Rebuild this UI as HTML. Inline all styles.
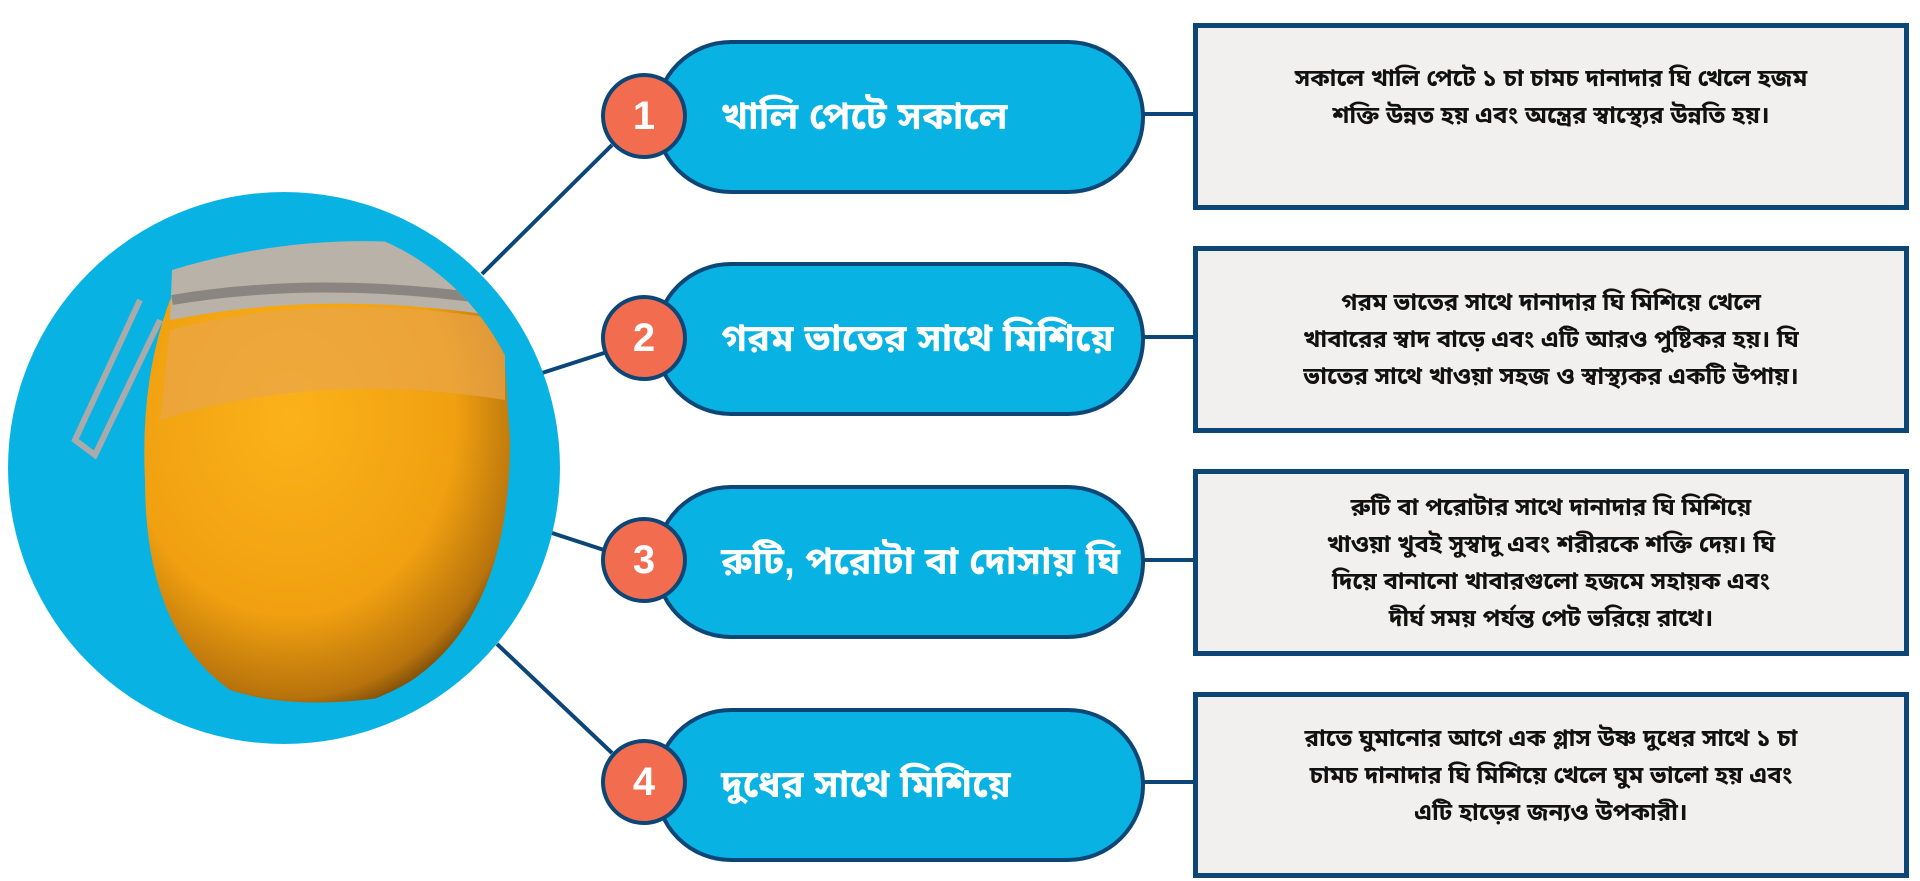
<!DOCTYPE html>
<html><head><meta charset="utf-8"><style>
html,body{margin:0;padding:0;background:#fff;}
body{width:1920px;height:881px;position:relative;overflow:hidden;font-family:"Liberation Sans","Noto Sans Bengali","Noto Sans CJK SC",sans-serif;}
.pill{position:absolute;left:654px;width:483px;height:146px;background:#08b2e3;border:4px solid #0b4677;border-radius:77px;box-sizing:content-box;}
.pill span{position:absolute;left:63px;top:0;line-height:146px;color:#fff;font-weight:bold;font-size:38px;white-space:nowrap;}
.num{position:absolute;left:601px;width:78px;height:78px;border-radius:50%;background:#f26c4f;border:4px solid #0b4677;color:#fff;font-weight:bold;font-size:40px;text-align:center;line-height:78px;}
.box{position:absolute;left:1193px;width:716px;background:#f1f0ee;border:5px solid #0b4677;display:flex;align-items:center;justify-content:center;text-align:center;font-weight:bold;font-size:24px;line-height:37px;color:#111;box-sizing:border-box;white-space:nowrap;}
</style></head><body>
<svg width="1920" height="881" style="position:absolute;left:0;top:0">
<defs>
<clipPath id="c"><circle cx="284" cy="468" r="248"/></clipPath>
<radialGradient id="g" cx="0.4" cy="0.35" r="0.75"><stop offset="0" stop-color="#fbb21a"/><stop offset="0.6" stop-color="#f0a010"/><stop offset="0.85" stop-color="#b8730c"/><stop offset="1" stop-color="#3a2208"/></radialGradient>
</defs>
<g stroke="#0b4677" stroke-width="4">
<line x1="482" y1="274" x2="612" y2="145"/>
<line x1="542" y1="373" x2="604" y2="353"/>
<line x1="552" y1="533" x2="604" y2="550"/>
<line x1="497" y1="644" x2="612" y2="753"/>
<line x1="1141" y1="114" x2="1195" y2="114"/>
<line x1="1141" y1="337" x2="1195" y2="337"/>
<line x1="1141" y1="560" x2="1195" y2="560"/>
<line x1="1141" y1="782" x2="1195" y2="782"/>
</g>
<circle cx="284" cy="468" r="276" fill="#08b2e3"/>
<g clip-path="url(#c)">
<path d="M170 300 Q320 240 500 290 L510 440 Q510 640 380 698 Q290 710 230 690 Q145 630 145 480 Q140 380 170 300 Z" fill="url(#g)"/>
<path d="M170 330 Q320 290 505 320 L505 400 Q320 370 160 420 Z" fill="#eaa54a" opacity="0.7"/>
<path d="M172 270 Q320 225 470 250 L490 315 Q320 290 170 320 Z" fill="#b9b2a8"/>
<path d="M172 300 Q320 275 495 300" stroke="#8a8580" stroke-width="10" fill="none"/>
<path d="M140 300 L75 440 L95 455 L160 320" stroke="#aaa" stroke-width="6" fill="none"/>
</g>
</svg>
<div class="pill" style="top:40px"><span>খালি পেটে সকালে</span></div>
<div class="pill" style="top:262px"><span>গরম ভাতের সাথে মিশিয়ে</span></div>
<div class="pill" style="top:485px"><span>রুটি, পরোটা বা দোসায় ঘি</span></div>
<div class="pill" style="top:708px"><span>দুধের সাথে মিশিয়ে</span></div>
<div class="num" style="top:73px">1</div>
<div class="num" style="top:295px">2</div>
<div class="num" style="top:517px">3</div>
<div class="num" style="top:739px">4</div>
<div class="box" style="top:23px;height:187px"><div style="margin-top:-40px">সকালে খালি পেটে ১ চা চামচ দানাদার ঘি খেলে হজম<br>শক্তি উন্নত হয় এবং অন্ত্রের স্বাস্থ্যের উন্নতি হয়।</div></div>
<div class="box" style="top:246px;height:187px"><div>গরম ভাতের সাথে দানাদার ঘি মিশিয়ে খেলে<br>খাবারের স্বাদ বাড়ে এবং এটি আরও পুষ্টিকর হয়। ঘি<br>ভাতের সাথে খাওয়া সহজ ও স্বাস্থ্যকর একটি উপায়।</div></div>
<div class="box" style="top:469px;height:187px"><div>রুটি বা পরোটার সাথে দানাদার ঘি মিশিয়ে<br>খাওয়া খুবই সুস্বাদু এবং শরীরকে শক্তি দেয়। ঘি<br>দিয়ে বানানো খাবারগুলো হজমে সহায়ক এবং<br>দীর্ঘ সময় পর্যন্ত পেট ভরিয়ে রাখে।</div></div>
<div class="box" style="top:692px;height:186px"><div style="margin-top:-20px">রাতে ঘুমানোর আগে এক গ্লাস উষ্ণ দুধের সাথে ১ চা<br>চামচ দানাদার ঘি মিশিয়ে খেলে ঘুম ভালো হয় এবং<br>এটি হাড়ের জন্যও উপকারী।</div></div>
</body></html>
